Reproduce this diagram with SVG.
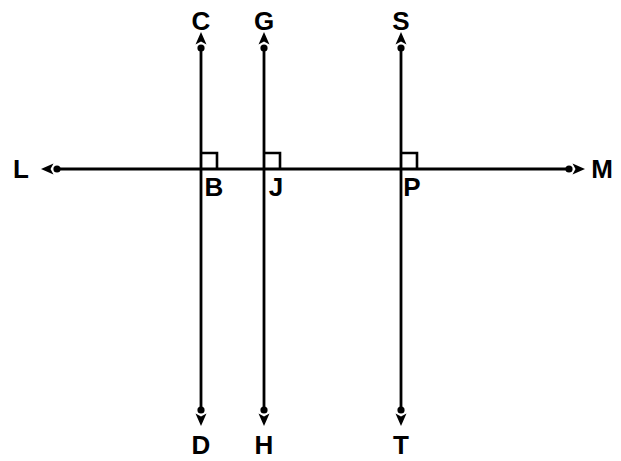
<svg xmlns="http://www.w3.org/2000/svg" width="621" height="461" viewBox="0 0 621 461">
<style>
.ln{stroke:#000;stroke-width:2.8;fill:none;marker-start:url(#ah);marker-end:url(#ah)}
.sq{stroke:#000;stroke-width:2.6;fill:none}
.lb{font-family:"Liberation Sans",Arial,sans-serif;font-size:26px;font-weight:bold;fill:#000;text-anchor:middle;dominant-baseline:central}
</style>
<defs>
<marker id="ah" markerUnits="userSpaceOnUse" orient="auto-start-reverse" viewBox="-5 -7 24 14" refX="0" refY="0" markerWidth="24" markerHeight="14">
<circle cx="0" cy="0" r="3.6" fill="#000"/>
<path d="M16,0 L3.5,-5.5 L6.5,0 L3.5,5.5 Z" fill="#000"/>
</marker>
</defs>
<rect width="621" height="461" fill="#fff"/>
<g id="connectors">
<line class="ln" x1="57" y1="169" x2="569" y2="169"/>
<line class="ln" x1="201" y1="48" x2="201" y2="410"/>
<line class="ln" x1="264" y1="48" x2="264" y2="410"/>
<line class="ln" x1="401" y1="48" x2="401" y2="410"/>
<path class="sq" d="M201,153 H217 V169"/>
<path class="sq" d="M264,153 H280 V169"/>
<path class="sq" d="M401,153 H417 V169"/>
</g>
<g id="C"><text class="lb" x="201" y="21">C</text></g>
<g id="G"><text class="lb" x="264" y="21">G</text></g>
<g id="S"><text class="lb" x="401" y="21">S</text></g>
<g id="L"><text class="lb" x="21" y="169">L</text></g>
<g id="M"><text class="lb" x="602" y="169">M</text></g>
<g id="B"><text class="lb" x="214" y="187">B</text></g>
<g id="J"><text class="lb" x="276" y="187">J</text></g>
<g id="P"><text class="lb" x="412" y="187">P</text></g>
<g id="D"><text class="lb" x="201" y="445">D</text></g>
<g id="H"><text class="lb" x="264" y="445">H</text></g>
<g id="T"><text class="lb" x="401" y="445">T</text></g>
</svg>
